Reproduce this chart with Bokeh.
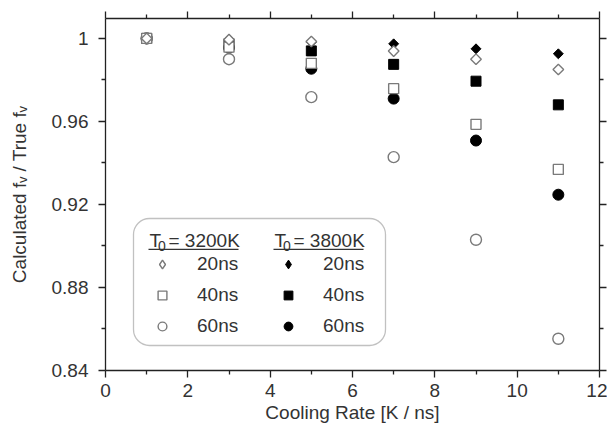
import math
from bokeh.plotting import figure
from bokeh.models import (LinearAxis, FixedTicker, PrintfTickFormatter, Range1d,
                          Legend, LegendItem, Label, BoxAnnotation)
from bokeh.embed import file_html
from bokeh.resources import INLINE

# ---- data ----
cooling_rate = [1, 3, 5, 7, 9, 11]
t3200_20ns = [1.000, 0.9994, 0.9985, 0.9939, 0.9900, 0.9850]
t3200_40ns = [1.000, 0.9958, 0.9880, 0.9758, 0.9586, 0.9369]
t3200_60ns = [1.000, 0.9900, 0.9717, 0.9428, 0.9030, 0.8553]
t3800_20ns = [1.000, 0.9997, 0.9982, 0.9974, 0.9950, 0.9926]
t3800_40ns = [1.000, 0.9975, 0.9940, 0.9875, 0.9794, 0.9680]
t3800_60ns = [1.000, 0.9955, 0.9854, 0.9710, 0.9508, 0.9247]

x_ticks = [0, 2, 4, 6, 8, 10, 12]
x_minor = [1, 3, 5, 7, 9, 11]
y_ticks = [0.84, 0.88, 0.92, 0.96, 1.00]
y_minor = [0.86, 0.90, 0.94, 0.98]

header_3200 = "3200K"
header_3800 = "3800K"
durations = ["20ns", "40ns", "60ns"]

FONT = "Liberation Sans"
TXT = "#333333"
AX = "#222222"
GRAY = "#7a7a7a"
FS = "19px"

p = figure(frame_width=494, frame_height=352,
           min_border_left=105, min_border_right=8, min_border_top=18, min_border_bottom=52,
           x_range=Range1d(0, 12), y_range=Range1d(0.84, 1.0096),
           output_backend="svg", toolbar_location=None)
p.outline_line_color = None
p.xgrid.visible = False
p.ygrid.visible = False
p.background_fill_color = "white"
p.border_fill_color = "white"

def style_axis(ax, ticks, minor, labels=True):
    ax.ticker = FixedTicker(ticks=ticks, minor_ticks=minor)
    ax.axis_line_color = AX
    ax.axis_line_width = 1.3
    ax.major_tick_line_color = AX
    ax.minor_tick_line_color = AX
    ax.major_tick_line_width = 1.3
    ax.minor_tick_line_width = 1.3
    ax.major_tick_in = 0
    ax.major_tick_out = 7
    ax.minor_tick_in = 0
    ax.minor_tick_out = 4
    ax.major_label_text_font = FONT
    ax.axis_label_text_font = FONT
    ax.axis_label_text_color = TXT
    ax.axis_label_text_font_style = "normal"
    ax.axis_label_text_font_size = FS
    if labels:
        ax.major_label_text_font_size = FS
        ax.major_label_text_color = TXT
    else:
        ax.major_label_text_font_size = "1px"
        ax.major_label_text_color = None
        ax.major_label_standoff = 0

xa = p.xaxis[0]
style_axis(xa, x_ticks, x_minor)
xa.axis_label = "Cooling Rate [K / ns]"
xa.major_label_standoff = 6
xa.axis_label_standoff = 2

ya = p.yaxis[0]
style_axis(ya, y_ticks, y_minor)
ya.formatter = PrintfTickFormatter(format="%g")
ya.axis_label = "Calculated f\u1d65 / True f\u1d65"
ya.major_label_standoff = 10
ya.axis_label_standoff = 19

top = LinearAxis()
style_axis(top, x_ticks, x_minor, labels=False)
p.add_layout(top, "above")
right = LinearAxis()
style_axis(right, y_ticks, y_minor, labels=False)
p.add_layout(right, "right")

# legend-shape diamonds (legend glyphs are never rotated); drawn first so the
# rotated-square data markers cover them completely
leg_f20 = p.scatter(cooling_rate, t3800_20ns, marker="diamond", size=6,
                    fill_color="black", line_color="black")

# ---- data markers: filled (3800 K) drawn first, open (3200 K) on top ----
r_f60 = p.scatter(cooling_rate, t3800_60ns, marker="circle", size=11,
                  fill_color="black", line_color="black")
r_f40 = p.scatter(cooling_rate, t3800_40ns, marker="square", size=10,
                  fill_color="black", line_color="black")
r_f20 = p.scatter(cooling_rate, t3800_20ns, marker="square", size=7, angle=math.pi / 4,
                  fill_color="black", line_color="black")
leg_o20 = p.scatter(cooling_rate, t3200_20ns, marker="diamond", size=6,
                    fill_color="white", line_color="white")
leg_o20_legend = dict(fill_color="white", line_color=GRAY, line_width=1.4)
r_o60 = p.scatter(cooling_rate, t3200_60ns, marker="circle", size=11,
                  fill_color="white", line_color=GRAY, line_width=1.4)
r_o40 = p.scatter(cooling_rate, t3200_40ns, marker="square", size=10,
                  fill_color="white", line_color=GRAY, line_width=1.4)
r_o20 = p.scatter(cooling_rate, t3200_20ns, marker="square", size=7.5, angle=math.pi / 4,
                  fill_color="white", line_color=GRAY, line_width=1.4)
# the hidden open diamond carries gray outline only for the legend swatch
leg_o20.glyph.line_color = GRAY
leg_o20.glyph.line_width = 1.4
# move it under the open markers, which cover it
p.renderers.remove(leg_o20)
p.renderers.insert(p.renderers.index(r_o60), leg_o20)

# ---- legend box ----
box = BoxAnnotation(left=28, right=280, bottom=25, top=152,
                    left_units="screen", right_units="screen",
                    bottom_units="screen", top_units="screen",
                    fill_alpha=0, line_color="#333333", line_width=1.3,
                    border_radius=16)
p.add_layout(box)

def make_legend(rs, x):
    return Legend(items=[LegendItem(label=d, renderers=[r]) for d, r in zip(durations, rs)],
                  location=(x, 33), padding=0, margin=0, spacing=9,
                  glyph_width=22, glyph_height=22, label_height=22, label_standoff=24,
                  label_text_font=FONT, label_text_font_size=FS, label_text_color=TXT,
                  background_fill_alpha=0, border_line_color=None)

p.add_layout(make_legend([leg_o20, r_o40, r_o60], 46))
p.add_layout(make_legend([leg_f20, r_f40, r_f60], 172))

def header(x0, txt):
    common = dict(x_units="screen", y_units="screen", text_font=FONT,
                  text_color=TXT, text_baseline="middle")
    p.add_layout(Label(x=x0, y=130, text="T", text_font_size=FS, **common))
    p.add_layout(Label(x=x0 + 8.5, y=125, text="0", text_font_size="14px", **common))
    p.add_layout(Label(x=x0 + 19, y=130, text="= " + txt, text_font_size=FS, **common))
    p.add_layout(BoxAnnotation(left=x0 - 1, right=x0 + 89, bottom=120.5, top=121.7,
                               left_units="screen", right_units="screen",
                               bottom_units="screen", top_units="screen",
                               fill_color=TXT, fill_alpha=1, line_color=None))

header(44, header_3200)
header(169, header_3800)

open("out.html", "w").write(file_html(p, INLINE))
